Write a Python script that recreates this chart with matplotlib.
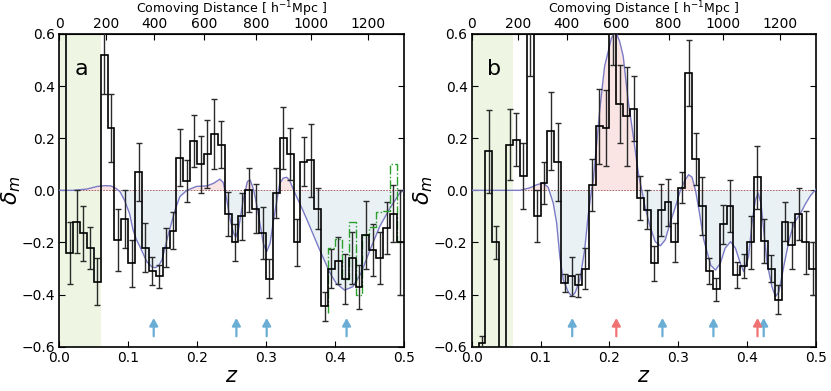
import numpy as np
import matplotlib
matplotlib.use("Agg")
import matplotlib.pyplot as plt

# ---- binned density contrast, 0.01 wide bins from z=0 to 0.5 ----
bin_edges = np.round(np.arange(51) * 0.01, 3)

delta_a = [1.00, -0.24, -0.12, -0.165, -0.22, -0.35, 0.52, 0.24, -0.19, -0.11,
           -0.28, 0.07, -0.22, -0.31, -0.33, -0.22, -0.155, 0.125, 0.035, 0.19,
           0.10, 0.14, 0.215, 0.175, -0.09, -0.20, -0.10, 0.0, -0.07, -0.165,
           -0.34, -0.01, 0.20, 0.14, -0.20, 0.11, 0.115, -0.07, -0.445, -0.30,
           -0.27, -0.34, -0.26, -0.37, -0.17, -0.23, -0.26, -0.145, -0.09, -0.20]
err_a = [0.20, 0.12, 0.12, 0.105, 0.08, 0.09, 0.15, 0.13, 0.12, 0.11,
         0.09, 0.11, 0.095, 0.055, 0.045, 0.075, 0.07, 0.11, 0.08, 0.10,
         0.11, 0.13, 0.135, 0.09, 0.085, 0.07, 0.09, 0.085, 0.095, 0.10,
         0.075, 0.095, 0.12, 0.10, 0.09, 0.095, 0.14, 0.08, 0.055, 0.075,
         0.09, 0.095, 0.10, 0.085, 0.13, 0.10, 0.10, 0.10, 0.11, 0.20]

delta_b = [-0.90, -0.585, 0.15, -0.20, -0.90, 0.175, 0.195, 0.055, 0.72, -0.10,
           0.027, 0.228, 0.11, -0.355, -0.33, -0.365, -0.30, 0.02, 0.245, 0.24,
           0.66, 0.33, 0.285, 0.313, -0.03, -0.075, -0.28, -0.075, -0.045, -0.20,
           0.01, 0.45, 0.12, -0.06, -0.31, -0.38, -0.13, -0.06, -0.325, -0.29,
           -0.20, 0.05, -0.195, -0.30, -0.42, -0.12, -0.21, -0.09, -0.20, -0.30]
err_b = [0.30, 0.025, 0.16, 0.065, 0.30, 0.137, 0.10, 0.125, 0.28, 0.10,
         0.08, 0.15, 0.15, 0.035, 0.075, 0.045, 0.077, 0.10, 0.145, 0.145,
         0.18, 0.15, 0.19, 0.125, 0.085, 0.075, 0.068, 0.10, 0.09, 0.075,
         0.06, 0.125, 0.10, 0.11, 0.05, 0.045, 0.075, 0.10, 0.05, 0.045,
         0.10, 0.12, 0.085, 0.05, 0.055, 0.075, 0.09, 0.10, 0.12, 0.10]

# second (green dash-dot) histogram in panel a, z = 0.39 .. 0.50
green_z = [0.39, 0.40, 0.41, 0.42, 0.43, 0.44, 0.45, 0.46, 0.47, 0.48, 0.49, 0.50]
green_v = [-0.47, -0.22, -0.185, -0.34, -0.12, -0.40, -0.17, -0.14, -0.085, -0.08, 0.10, -0.20]

# smoothed reconstruction curves
curve_a_z = [0.0, 0.02, 0.04, 0.055, 0.066, 0.075, 0.082, 0.088, 0.095, 0.102, 0.107,
             0.112, 0.117, 0.127, 0.134, 0.139, 0.144, 0.149, 0.158, 0.168, 0.175,
             0.185, 0.199, 0.214, 0.224, 0.233, 0.238, 0.243, 0.248, 0.253, 0.256,
             0.26, 0.267, 0.273, 0.277, 0.282, 0.287, 0.292, 0.296, 0.301, 0.306,
             0.311, 0.316, 0.32, 0.325, 0.33, 0.334, 0.342, 0.349, 0.359, 0.378,
             0.393, 0.402, 0.414, 0.426, 0.438, 0.451, 0.465, 0.48, 0.494, 0.5]
curve_a_v = [0.0, 0.0, 0.005, 0.015, 0.018, 0.017, 0.008, -0.005, -0.04, -0.09, -0.152,
             -0.19, -0.216, -0.274, -0.293, -0.297, -0.29, -0.267, -0.171, -0.075, -0.024,
             0.0, 0.015, 0.017, 0.027, 0.043, 0.03, -0.036, -0.113, -0.165, -0.18,
             -0.152, -0.036, 0.034, 0.04, 0.002, -0.062, -0.139, -0.203, -0.235, -0.203,
             -0.113, -0.036, 0.027, 0.047, 0.05, 0.04, -0.011, -0.05, -0.11, -0.229,
             -0.318, -0.357, -0.383, -0.37, -0.318, -0.229, -0.139, -0.068, -0.011, 0.0]

curve_b_z = [0.0, 0.07, 0.085, 0.095, 0.104, 0.111, 0.1185, 0.1234, 0.128, 0.133, 0.14,
             0.145, 0.15, 0.157, 0.164, 0.169, 0.174, 0.1766, 0.1815, 0.186, 0.193,
             0.203, 0.209, 0.215, 0.22, 0.227, 0.234, 0.242, 0.247, 0.2516, 0.259,
             0.2665, 0.274, 0.281, 0.288, 0.296, 0.303, 0.31, 0.315, 0.32, 0.325,
             0.33, 0.337, 0.347, 0.354, 0.361, 0.368, 0.376, 0.383, 0.39, 0.395,
             0.402, 0.407, 0.412, 0.416, 0.42, 0.424, 0.429, 0.436, 0.441, 0.446,
             0.454, 0.461, 0.468, 0.477, 0.485, 0.492, 0.5]
curve_b_v = [0.0, 0.0, 0.01, 0.022, 0.028, 0.012, -0.05, -0.126, -0.255, -0.344, -0.389,
             -0.406, -0.394, -0.344, -0.229, -0.10, 0.0, 0.04, 0.18, 0.31, 0.476,
             0.585, 0.61, 0.57, 0.515, 0.348, 0.22, 0.066, 0.0, -0.062, -0.139,
             -0.197, -0.213, -0.19, -0.126, -0.062, 0.0, 0.04, 0.06, 0.05, 0.0,
             -0.075, -0.19, -0.287, -0.306, -0.28, -0.222, -0.197, -0.222, -0.28, -0.312,
             -0.255, -0.126, -0.036, -0.011, -0.05, -0.152, -0.28, -0.37, -0.408, -0.39,
             -0.28, -0.19, -0.126, -0.09, -0.05, -0.02, 0.005]

# arrow markers (redshift of structures)
arrows_a_blue = [0.137, 0.257, 0.301, 0.417]
arrows_b_blue = [0.146, 0.277, 0.351, 0.424]
arrows_b_red = [0.21, 0.415]

# comoving distance axis (flat LCDM, Om = 0.3) for the top axis
zz = np.linspace(0, 1.0, 2001)
dist = np.concatenate([[0], np.cumsum(np.diff(zz) * 0.5 * (
    1 / np.sqrt(0.3 * (1 + zz[1:]) ** 3 + 0.7) + 1 / np.sqrt(0.3 * (1 + zz[:-1]) ** 3 + 0.7))
)]) * 2997.9


def z2d(z):
    return np.interp(z, zz, dist)


def d2z(d):
    return np.interp(d, dist, zz)


plt.rcParams["font.size"] = 10
plt.rcParams["axes.unicode_minus"] = True

fig = plt.figure(figsize=(8.31, 3.91), dpi=100)
ax_a = fig.add_axes([0.0714, 0.1133, 0.4145, 0.7998])
ax_b = fig.add_axes([0.5676, 0.1133, 0.4144, 0.7998])

BLUE_FILL = "#e9f1f5"
PINK_FILL = "#fbe4e4"
CURVE = "#7b7bc6"


def panel(ax, vals, errs, cz, cv, label):
    ax.axvspan(0, 0.06, color="#eef6e3", zorder=0, lw=0)
    cz = np.array(cz)
    cv = np.array(cv)
    ax.fill_between(cz, cv, 0, where=cv <= 0, interpolate=True,
                    color=BLUE_FILL, lw=0, zorder=1)
    ax.fill_between(cz, cv, 0, where=cv >= 0, interpolate=True,
                    color=PINK_FILL, lw=0, zorder=1)
    ax.axhline(0, color="#a05050", ls="--", lw=0.6, dashes=(2, 1.5), zorder=2)
    ax.plot(cz, cv, color=CURVE, lw=1.0, zorder=3)
    centers = (bin_edges[:-1] + bin_edges[1:]) / 2
    ax.errorbar(centers, vals, yerr=errs, fmt="none", ecolor="#2a2a2a",
                elinewidth=1.0, capsize=2.2, capthick=1.0, zorder=4)
    ax.stairs(vals, bin_edges, baseline=None, color="black", lw=1.2, zorder=5)

    ax.set_xlim(0, 0.5)
    ax.set_ylim(-0.6, 0.6)
    ax.set_xticks([0.0, 0.1, 0.2, 0.3, 0.4, 0.5])
    ax.set_yticks([-0.6, -0.4, -0.2, 0.0, 0.2, 0.4, 0.6])
    ax.xaxis.set_major_formatter(plt.FuncFormatter(lambda x, _: f"{x:.1f}"))
    ax.yaxis.set_major_formatter(plt.FuncFormatter(
        lambda y, _: f"{y:.1f}".replace("-", "\u2212")))
    ax.tick_params(direction="in", length=4, width=0.8, right=True, top=False,
                   labelsize=10, pad=3)
    for sp in ax.spines.values():
        sp.set_linewidth(1.2)
    ax.set_xlabel("$z$", fontsize=15, labelpad=1)
    ax.set_ylabel(r"$\delta_m$", fontsize=16, labelpad=-1)

    sec = ax.secondary_xaxis("top", functions=(z2d, d2z))
    sec.set_xticks([0, 200, 400, 600, 800, 1000, 1200])
    sec.tick_params(direction="in", length=4, width=0.8, labelsize=10, pad=2)
    sec.set_xlabel(r"Comoving Distance [ h$^{-1}$Mpc ]", fontsize=9, labelpad=3)

    ax.text(0.045, 0.87, label, transform=ax.transAxes, fontsize=16,
            va="baseline", ha="left")


def arrows(ax, zs, color):
    for z in zs:
        ax.annotate("", xy=(z, -0.49), xytext=(z, -0.56),
                    arrowprops=dict(arrowstyle="-|>,head_width=0.25,head_length=0.45",
                                    color=color, lw=1.6, shrinkA=0, shrinkB=0),
                    zorder=6)


panel(ax_a, delta_a, err_a, curve_a_z, curve_a_v, "a")
ax_a.step(green_z, green_v, where="pre", color="#2ca02c", lw=1.0,
          ls="-.", zorder=4.5)
arrows(ax_a, arrows_a_blue, "#6aaed6")

panel(ax_b, delta_b, err_b, curve_b_z, curve_b_v, "b")
arrows(ax_b, arrows_b_blue, "#6aaed6")
arrows(ax_b, arrows_b_red, "#f07272")

fig.savefig("out.png", dpi=100)
